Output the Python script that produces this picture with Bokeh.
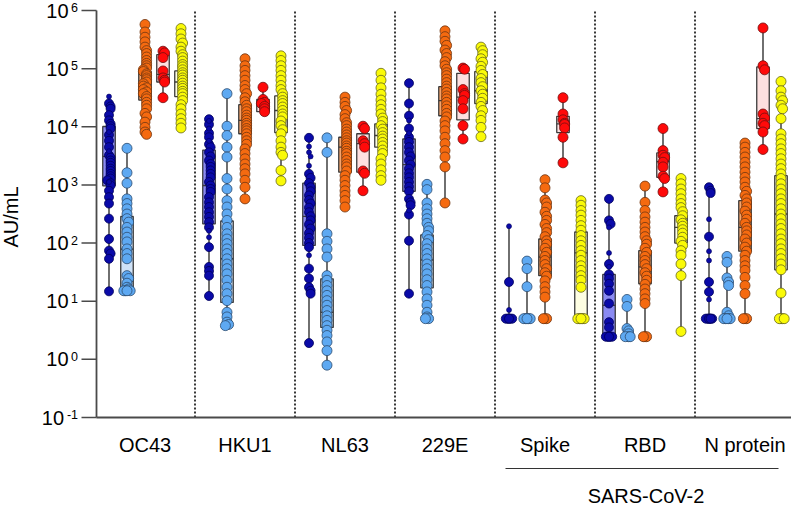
import numpy as np
from bokeh.plotting import figure
from bokeh.models import ColumnDataSource, Range1d
from bokeh.core.properties import value
from bokeh.embed import file_html
from bokeh.resources import INLINE

# ---------------- data (values are log10 of AU/mL) ----------------
categories = ["OC43", "HKU1", "NL63", "229E", "Spike", "RBD", "N protein"]
supergroup_label = "SARS-CoV-2"
y_label = "AU/mL"
y_ticks = [0.1, 1, 10, 100, 1000, 10000, 100000, 1000000]
y_tick_base = "10"
y_tick_exponents = ["-1", "0", "1", "2", "3", "4", "5", "6"]

# OC43
oc43_dk = [4.40, 4.35, 4.31, 4.20, 4.11, 4.05, 4.01, 3.97, 3.86, 3.76, 3.65, 3.51, 3.47, 3.42, 3.38, 3.33, 3.28, 3.24,
           3.19, 3.15, 3.11, 3.08, 3.03, 2.99, 2.90, 2.79, 2.68, 2.42, 2.07, 1.87, 1.82, 1.73, 1.17]
oc43_dk_small = [4.52, 3.91, 3.58, 3.05]
oc43_lt = [3.63, 3.21, 3.03, 2.76, 2.68, 2.59, 2.50, 2.42, 2.36, 2.27, 2.19, 2.10, 2.02, 1.90, 1.82, 1.73, 1.44, 1.39,
           1.31, 1.24, 1.21, 1.18, 1.18, 1.18, 1.18]
oc43_or = [5.76, 5.63, 5.54, 5.46, 5.37, 5.31, 5.26, 5.20, 5.14, 5.09, 5.05, 5.01, 4.98, 4.95, 4.91, 4.88, 4.84, 4.81,
           4.77, 4.74, 4.70, 4.67, 4.64, 4.60, 4.57, 4.52, 4.48, 4.42, 4.37, 4.31, 4.23, 4.17, 4.08, 3.99, 3.91, 3.87]
oc43_rd = [5.30, 5.27, 5.19, 4.96, 4.84, 4.80, 4.77, 4.50]
oc43_ye = [5.69, 5.60, 5.51, 5.44, 5.37, 5.30, 5.24, 5.19, 5.13, 5.07, 5.03, 4.98, 4.93, 4.89, 4.84, 4.80, 4.75, 4.70,
           4.66, 4.61, 4.57, 4.51, 4.45, 4.38, 4.31, 4.22, 4.14, 4.06, 3.98]
# HKU1
hku1_dk = [4.13, 4.04, 3.89, 3.82, 3.70, 3.65, 3.56, 3.49, 3.42, 3.36, 3.31, 3.25, 3.19, 3.13, 3.05, 2.99, 2.93, 2.88,
           2.79, 2.70, 2.62, 2.53, 2.45, 2.36, 2.27, 1.93, 1.59, 1.52, 1.44, 1.09]
hku1_dk_small = [4.10, 3.97, 3.76, 2.21, 2.10]
hku1_lt = [4.57, 4.01, 3.85, 3.65, 3.48, 3.11, 2.93, 2.73, 2.62, 2.50, 2.39, 2.27, 2.16, 2.07, 1.99, 1.90, 1.82, 1.73,
           1.64, 1.56, 1.47, 1.36, 1.24, 1.13, 1.01, 0.81, 0.73, 0.64, 0.60, 0.58]
hku1_or = [5.17, 5.05, 4.97, 4.88, 4.80, 4.71, 4.64, 4.57, 4.50, 4.43, 4.37, 4.31, 4.26, 4.20, 4.15, 4.11, 4.06, 4.02,
           3.97, 3.93, 3.88, 3.82, 3.76, 3.70, 3.62, 3.54, 3.45, 3.36, 3.28, 3.19, 3.08, 2.96, 2.76]
hku1_rd = [4.68, 4.47, 4.42, 4.40, 4.35, 4.31, 4.26]
hku1_ye = [5.22, 5.14, 5.05, 4.97, 4.88, 4.80, 4.71, 4.64, 4.57, 4.51, 4.45, 4.40, 4.34, 4.28, 4.22, 4.17, 4.10, 4.02,
           3.95, 3.88, 3.76, 3.65, 3.56, 3.51, 3.25, 3.07]
# NL63
nl63_dk = [3.81, 3.19, 3.12, 3.03, 2.96, 2.89, 2.82, 2.74, 2.68, 2.61, 2.53, 2.46, 2.39, 2.32, 2.25, 2.17, 2.09, 2.00,
           1.93, 1.56, 1.39, 1.24, 1.18, 1.13, 0.28]
nl63_dk_small = [3.66, 3.56, 3.49, 3.33, 1.79]
nl63_lt = [3.81, 3.56, 2.16, 2.03, 1.90, 1.76, 1.44, 1.36, 1.27, 1.18, 1.10, 1.01, 0.93, 0.84, 0.75, 0.67, 0.58, 0.50,
           0.41, 0.30, 0.15, -0.10]
nl63_or = [4.51, 4.42, 4.35, 4.28, 4.21, 4.14, 4.07, 4.02, 3.96, 3.91, 3.86, 3.81, 3.76, 3.72, 3.67, 3.63, 3.58, 3.54,
           3.48, 3.42, 3.36, 3.31, 3.24, 3.16, 3.08, 2.99, 2.90, 2.82, 2.73, 2.62]
nl63_rd = [4.01, 3.97, 3.76, 3.71, 3.65, 3.24, 3.20, 2.90]
nl63_ye = [4.92, 4.80, 4.67, 4.56, 4.46, 4.38, 4.30, 4.22, 4.15, 4.09, 4.02, 3.96, 3.90, 3.84, 3.79, 3.73, 3.67, 3.60,
           3.54, 3.45, 3.36, 3.26, 3.16, 3.08]
# 229E
e229_dk = [4.75, 4.40, 4.19, 3.97, 3.82, 3.74, 3.65, 3.56, 3.49, 3.42, 3.35, 3.28, 3.20, 3.13, 3.05, 2.97, 2.89, 2.76,
           2.70, 2.65, 2.49, 2.04, 1.13]
e229_dk_small = [4.11, 3.89, 2.56]
e229_lt = [3.01, 2.92, 2.69, 2.59, 2.50, 2.42, 2.34, 2.27, 2.21, 2.13, 2.06, 1.99, 1.90, 1.82, 1.73, 1.64, 1.56, 1.47,
           1.37, 1.27, 1.16, 1.04, 0.93, 0.81, 0.73, 0.70, 0.70]
e229_or = [5.65, 5.55, 5.47, 5.40, 5.32, 5.26, 5.19, 5.12, 5.05, 4.99, 4.93, 4.88, 4.82, 4.76, 4.70, 4.65, 4.59, 4.53,
           4.48, 4.42, 4.36, 4.30, 4.23, 4.17, 4.10, 4.02, 3.93, 3.82, 3.71, 3.59, 3.48, 3.31, 2.69]
e229_rd = [5.01, 4.99, 4.64, 4.57, 4.54, 4.45, 4.31, 4.02, 3.79]
e229_ye = [5.37, 5.31, 5.24, 5.17, 5.11, 5.04, 4.97, 4.90, 4.83, 4.76, 4.69, 4.62, 4.56, 4.49, 4.42, 4.35, 4.28, 4.19,
           4.11, 3.99, 3.83]
# Spike
spike_dk = [1.33, 0.70, 0.70, 0.70, 0.70, 0.70, 0.70]
spike_dk_small = [2.29, 0.85]
spike_lt = [1.69, 1.56, 1.25, 0.70, 0.70, 0.70, 0.70, 0.70, 0.70]
spike_or = [3.09, 2.95, 2.74, 2.69, 2.62, 2.53, 2.46, 2.39, 2.32, 2.25, 2.18, 2.11, 2.04, 1.98, 1.91, 1.84, 1.77, 1.70,
            1.63, 1.56, 1.49, 1.43, 1.35, 1.25, 1.16, 1.07, 0.70, 0.70, 0.70]
spike_rd = [4.50, 4.22, 4.12, 4.06, 4.04, 3.98, 3.82, 3.38]
spike_ye = [2.73, 2.65, 2.56, 2.48, 2.39, 2.30, 2.22, 2.13, 2.04, 1.96, 1.87, 1.79, 1.70, 1.61, 1.53, 1.44, 1.36, 1.24,
            0.70, 0.70, 0.70, 0.70, 0.70, 0.70]
# RBD
rbd_dk = [2.76, 2.39, 2.33, 1.64, 1.46, 1.39, 1.30, 1.18, 0.96, 0.64, 0.55, 0.39, 0.39, 0.39, 0.39, 0.39, 0.39]
rbd_dk_small = [2.27, 1.83, 1.59]
rbd_lt = [1.03, 0.91, 0.53, 0.49, 0.44, 0.39, 0.39, 0.39]
rbd_or = [2.98, 2.70, 2.56, 2.45, 2.36, 2.27, 2.19, 2.11, 2.04, 1.98, 1.91, 1.84, 1.77, 1.70, 1.63, 1.56, 1.49, 1.43,
          1.36, 1.29, 1.21, 1.13, 1.04, 0.96, 0.39, 0.39, 0.39]
rbd_rd = [3.97, 3.59, 3.51, 3.47, 3.39, 3.31, 3.15, 3.11, 2.88]
rbd_ye = [3.11, 3.02, 2.93, 2.85, 2.76, 2.68, 2.61, 2.54, 2.47, 2.40, 2.34, 2.29, 2.23, 2.17, 2.10, 2.03, 1.96, 1.87,
          1.79, 1.64, 1.44, 0.48]
# N protein
nprot_dk = [2.96, 2.90, 2.86, 2.11, 1.33, 1.16, 0.70, 0.70, 0.70, 0.70, 0.70, 0.70, 0.70]
nprot_dk_small = [2.41, 1.86, 1.70, 1.03]
nprot_lt = [1.77, 1.67, 1.40, 1.33, 1.27, 0.81, 0.75, 0.70, 0.70, 0.70, 0.70, 0.70]
nprot_or = [3.72, 3.65, 3.56, 3.48, 3.39, 3.31, 3.22, 3.13, 3.05, 2.96, 2.89, 2.82, 2.76, 2.69, 2.62, 2.55, 2.48, 2.41,
            2.34, 2.27, 2.21, 2.14, 2.07, 2.00, 1.93, 1.86, 1.79, 1.70, 1.61, 1.53, 1.41, 1.27, 1.13, 0.70, 0.70, 0.70]
nprot_rd = [5.70, 5.05, 4.98, 4.22, 4.15, 4.06, 4.02, 3.91, 3.61]
nprot_ye = [4.78, 4.62, 4.51, 4.45, 4.37, 4.31, 4.14, 3.88, 3.79, 3.71, 3.62, 3.54, 3.45, 3.36, 3.28, 3.19, 3.11, 3.02,
            2.93, 2.85, 2.76, 2.68, 2.59, 2.50, 2.42, 2.33, 2.25, 2.16, 2.07, 1.99, 1.90, 1.82, 1.73, 1.64, 1.54, 1.14,
            0.70, 0.70, 0.70, 0.70]

# box statistics (log10 AU/mL), one entry per category
dk_q1 = [2.985, 2.33, 1.96, 2.89, 0.70, 0.39, 0.70]
dk_med = [3.49, 2.99, 2.46, 3.35, 0.70, 0.93, 0.70]
dk_q3 = [4.005, 3.60, 3.03, 3.79, 0.70, 1.46, 0.70]
lt_q1 = [1.18, 0.98, 0.55, 1.23, 0.70, 0.39, 0.70]
lt_med = [1.895, 1.73, 0.81, 1.71, 0.70, 0.39, 0.70]
lt_q3 = [2.457, 2.38, 1.385, 2.14, 0.70, 0.39, 0.70]
or_q1 = [4.46, 3.88, 3.22, 4.19, 1.44, 1.30, 1.86]
or_med = [4.74, 4.11, 3.65, 4.45, 1.76, 1.59, 2.27]
or_q3 = [4.95, 4.38, 3.82, 4.69, 2.07, 1.87, 2.73]
rd_q1 = [4.77, 4.26, 3.22, 4.12, 3.90, 3.13, 3.97]
rd_med = [4.90, 4.40, 3.71, 4.51, 4.05, 3.40, 4.14]
rd_q3 = [5.24, 4.47, 3.88, 4.92, 4.18, 3.55, 5.03]
ye_q1 = [4.52, 3.90, 3.65, 4.40, 0.70, 2.00, 1.54]
ye_med = [4.77, 4.28, 3.85, 4.62, 1.83, 2.27, 2.50]
ye_q3 = [4.96, 4.53, 4.05, 4.95, 2.19, 2.47, 3.16]

dk_points = [oc43_dk, hku1_dk, nl63_dk, e229_dk, spike_dk, rbd_dk, nprot_dk]
dk_small_points = [oc43_dk_small, hku1_dk_small, nl63_dk_small, e229_dk_small, spike_dk_small, rbd_dk_small, nprot_dk_small]
lt_points = [oc43_lt, hku1_lt, nl63_lt, e229_lt, spike_lt, rbd_lt, nprot_lt]
or_points = [oc43_or, hku1_or, nl63_or, e229_or, spike_or, rbd_or, nprot_or]
rd_points = [oc43_rd, hku1_rd, nl63_rd, e229_rd, spike_rd, rbd_rd, nprot_rd]
ye_points = [oc43_ye, hku1_ye, nl63_ye, e229_ye, spike_ye, rbd_ye, nprot_ye]

# ---------------- styling ----------------
FONT = "Liberation Sans"
AXIS_COLOR = "#4a4a4a"
series = [
    dict(pts=dk_points, small=dk_small_points, q1=dk_q1, med=dk_med, q3=dk_q3, off=-0.36,
         fill="#0a0aa8", line="#00005a", box="#8a8af2", size=9),
    dict(pts=lt_points, small=None, q1=lt_q1, med=lt_med, q3=lt_q3, off=-0.18,
         fill="#5ea9f2", line="#2c4b6e", box="#cfe2f7", size=10),
    dict(pts=or_points, small=None, q1=or_q1, med=or_med, q3=or_q3, off=0.0,
         fill="#f56a10", line="#6e3510", box="#f7a46a", size=10),
    dict(pts=rd_points, small=None, q1=rd_q1, med=rd_med, q3=rd_q3, off=0.18,
         fill="#ff0a0a", line="#701010", box="#fde0e0", size=10),
    dict(pts=ye_points, small=None, q1=ye_q1, med=ye_med, q3=ye_q3, off=0.36,
         fill="#fafa08", line="#66661c", box="#fefee2", size=10),
]
BOX_W = 0.125
W, H = 791, 506
AXIS_PX = 96          # window column of the y axis line
X_AXIS = -0.485       # data x of the y axis line
PX = 100.0            # pixels per category
TOP_PX = 10           # window row of 10^6
BOTTOM_PX = 417       # window row of 10^-1
PX_PER_DECADE = (BOTTOM_PX - TOP_PX) / 7.0


def sx(window_px):
    """data x for a window pixel column"""
    return X_AXIS + (window_px - AXIS_PX) / PX


def sy(window_py):
    """data y for a window pixel row (log axis)"""
    return 10 ** (6 - (window_py - TOP_PX) / PX_PER_DECADE)


def spread(vals, step=0.016, win=0.07):
    """deterministic horizontal spreading of overlapping points"""
    vals = np.asarray(vals, dtype=float)
    order = np.argsort(-vals, kind="stable")
    offs = np.zeros(len(vals))
    placed = []
    pattern = [0, 1, -1, 2, -2]
    for i in order:
        k = sum(1 for v in placed if abs(v - vals[i]) < win)
        offs[i] = pattern[k % len(pattern)] * step
        placed.append(vals[i])
    return offs


p = figure(width=W, height=H, title=None,
           x_range=Range1d(sx(0), sx(W)), y_range=Range1d(sy(H), sy(0)), y_axis_type="log",
           x_axis_location=None, y_axis_location=None,
           output_backend="svg", toolbar_location=None,
           min_border_left=0, min_border_right=0, min_border_top=0, min_border_bottom=0)
p.outline_line_color = None
p.xgrid.visible = False
p.ygrid.visible = False
p.background_fill_color = "white"

# dotted separators
seps = [i + 0.5 for i in range(len(categories) - 1)]
p.segment(x0=seps, x1=seps, y0=[0.1] * len(seps), y1=[1e6] * len(seps),
          line_color="#222222", line_width=1.8, line_dash="2 2")

# axis lines
p.segment(x0=[X_AXIS], x1=[X_AXIS], y0=[0.1], y1=[1e6], line_color=AXIS_COLOR, line_width=1.8)
p.segment(x0=[X_AXIS], x1=[sx(W)], y0=[0.1], y1=[0.1], line_color=AXIS_COLOR, line_width=1.8)

# y ticks and labels ("10" with a raised exponent)
p.segment(x0=[sx(81)] * len(y_ticks), x1=[X_AXIS] * len(y_ticks), y0=y_ticks, y1=y_ticks,
          line_color=AXIS_COLOR, line_width=1.5)
EXP_RIGHT = 77.5
raise_factor = 10 ** (3.0 / PX_PER_DECADE)
exp_x, exp_y, base_x = [], [], []
for t, e in zip(y_ticks, y_tick_exponents):
    exp_w = 7.0 * len(e) - (2.5 if e.startswith("-") else 0)
    exp_x.append(sx(EXP_RIGHT))
    exp_y.append(t * raise_factor)
    base_x.append(sx(EXP_RIGHT - exp_w - 2.5))
p.text(x=exp_x, y=exp_y, text=y_tick_exponents, text_align="right", text_baseline="middle",
       text_font=value(FONT), text_font_size=value("12.5px"), text_color="black")
p.text(x=base_x, y=y_ticks, text=[y_tick_base] * len(y_ticks), text_align="right",
       text_baseline="middle", text_font=value(FONT), text_font_size=value("20px"), text_color="black")

# y axis title
p.text(x=[sx(10.5)], y=[sy(216.5)], text=[y_label], angle=np.pi / 2, text_align="center",
       text_baseline="middle", text_font=value(FONT), text_font_size=value("20px"), text_color="black")

# category labels, SARS-CoV-2 bracket
p.text(x=list(range(len(categories))), y=[sy(444.5)] * len(categories), text=categories,
       text_align="center", text_baseline="middle", text_font=value(FONT),
       text_font_size=value("20px"), text_color="black")
p.segment(x0=[sx(505)], x1=[sx(778)], y0=[sy(468)], y1=[sy(468)], line_color="#333333", line_width=1.2)
p.text(x=[sx(645.5)], y=[sy(495)], text=[supergroup_label], text_align="center", text_baseline="middle",
       text_font=value(FONT), text_font_size=value("20px"), text_color="black")

for s in series:
    xs_c = [g + s["off"] for g in range(len(categories))]
    allpts = []
    for g in range(len(categories)):
        v = list(s["pts"][g]) + (list(s["small"][g]) if s["small"] else [])
        allpts.append(v)
    lo = [10 ** min(v) for v in allpts]
    hi = [10 ** max(v) for v in allpts]
    p.segment(x0=xs_c, x1=xs_c, y0=lo, y1=hi, line_color="#222222", line_width=1.3)
    keep = [g for g in range(len(categories)) if s["q3"][g] > s["q1"][g]]
    bsrc = ColumnDataSource(dict(
        x=[xs_c[g] for g in keep],
        bottom=[10 ** s["q1"][g] for g in keep],
        top=[10 ** s["q3"][g] for g in keep],
        med=[10 ** s["med"][g] for g in keep],
        x0=[xs_c[g] - BOX_W / 2 for g in keep],
        x1=[xs_c[g] + BOX_W / 2 for g in keep],
    ))
    p.vbar(x="x", width=BOX_W, bottom="bottom", top="top", source=bsrc,
           fill_color=s["box"], line_color="#3a3a3a", line_width=1.3)
    p.segment(x0="x0", x1="x1", y0="med", y1="med", source=bsrc, line_color="#3a3a3a", line_width=1.3)

    px, py = [], []
    for g in range(len(categories)):
        v = s["pts"][g]
        offs = spread(v)
        px += [xs_c[g] + o for o in offs]
        py += [10 ** val for val in v]
    p.scatter(x=px, y=py, size=s["size"], marker="circle", fill_color=s["fill"],
              line_color=s["line"], line_width=0.8)
    if s["small"]:
        qx, qy = [], []
        for g in range(len(categories)):
            v = s["small"][g]
            offs = spread(v)
            qx += [xs_c[g] + o for o in offs]
            qy += [10 ** val for val in v]
        p.scatter(x=qx, y=qy, size=5, marker="circle", fill_color=s["fill"],
                  line_color=s["line"], line_width=0.6)

open("out.html", "w").write(file_html(p, INLINE))
